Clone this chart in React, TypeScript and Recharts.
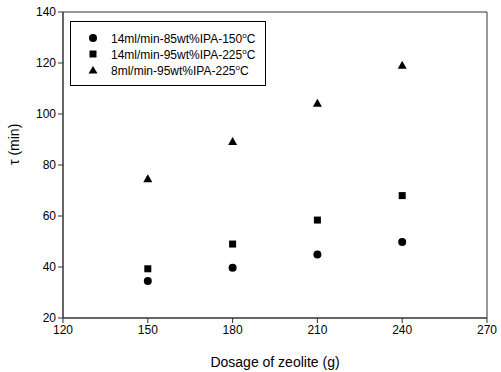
import React from 'react';
import { ReferenceArea, Scatter, ScatterChart, XAxis, YAxis, ZAxis } from 'recharts';

const dosage = [150, 180, 210, 240];
const run85at150 = [34.5, 39.7, 44.9, 49.8];
const run95at225 = [39.3, 49.0, 58.4, 68.0];
const run8at225 = [74.6, 89.2, 104.2, 119.1];

const xTicks = [120, 150, 180, 210, 240, 270];
const yTicks = [20, 40, 60, 80, 100, 120, 140];

type point = { x: number, y: number };
const toPoints = (values: number[]): point[] => dosage.map((x, i) => ({ x, y: values[i] }));

const seriesList = [
    { name: '14ml/min-85wt%IPA-150', shape: 'circle', data: toPoints(run85at150) },
    { name: '14ml/min-95wt%IPA-225', shape: 'square', data: toPoints(run95at225) },
    { name: '8ml/min-95wt%IPA-225', shape: 'triangle', data: toPoints(run8at225) }
];

const font = '"Liberation Sans", Arial, sans-serif';

// small marker drawn at the scaled point
const renderMarker = (shape: string) => (props: any) => {
    const { cx, cy } = props;
    if (shape === 'circle') return <circle cx={cx} cy={cy} r={4} fill="#000"/>;
    if (shape === 'square') return <rect x={cx - 3.5} y={cy - 3.5} width={7} height={7} fill="#000"/>;
    return <polygon points={`${cx},${cy - 4.5} ${cx + 4.5},${cy + 3.5} ${cx - 4.5},${cy + 3.5}`} fill="#000"/>;
};

function LegendBox() {
    const marker = (shape: string) => {
        if (shape === 'circle') return <circle cx={5} cy={5} r={4} fill="#000"/>;
        if (shape === 'square') return <rect x={1.5} y={1.5} width={7} height={7} fill="#000"/>;
        return <polygon points="5,1 9.5,8.5 0.5,8.5" fill="#000"/>;
    };
    return (
        <div style={{
            position: 'absolute', left: 70, top: 21,
            border: '1px solid #000', width: 196, height: 65, boxSizing: 'border-box',
            padding: '8px 0 0 17px', fontFamily: font, fontSize: 12, background: '#fff'
        }}>
            {seriesList.map(s => (
                <div key={s.name} style={{ display: 'flex', alignItems: 'center', height: 16 }}>
                    <svg width={10} height={10} style={{ marginRight: 13 }}>{marker(s.shape)}</svg>
                    <span>{s.name}<sup style={{ fontSize: 8 }}>o</sup>C</span>
                </div>
            ))}
        </div>
    );
}

export default function App() {
    return (
        <div style={{ position: 'absolute', left: 0, top: 0, width: 501, height: 372, background: '#fff' }}>
            <ScatterChart width={501} height={372} margin={{ top: 12, right: 14, bottom: 0, left: 0 }}>
                <XAxis
                    type="number"
                    dataKey="x"
                    domain={[120, 270]}
                    ticks={xTicks}
                    height={54}
                    stroke="#333"
                    tickLine={{ stroke: '#333' }}
                    tick={{ fill: '#000', fontSize: 12, fontFamily: font }}
                    tickSize={5}
                    label={{ value: 'Dosage of zeolite (g)', position: 'insideBottom', offset: 5, fill: '#000', fontSize: 14, fontFamily: font }}
                />
                <YAxis
                    type="number"
                    dataKey="y"
                    domain={[20, 140]}
                    ticks={yTicks}
                    width={63}
                    stroke="#333"
                    tickLine={{ stroke: '#333' }}
                    tick={{ fill: '#000', fontSize: 12, fontFamily: font }}
                    tickSize={5}
                    label={{ value: 'τ (min)', angle: -90, position: 'insideLeft', offset: 14, fill: '#000', fontSize: 14, fontFamily: font }}
                />
                <ZAxis range={[50, 50]}/>
                <ReferenceArea x1={120} x2={270} y1={20} y2={140} fill="none" stroke="#333" strokeOpacity={1}/>
                {seriesList.map(s => (
                    <Scatter
                        key={s.name}
                        name={s.name}
                        data={s.data}
                        fill="#000"
                        shape={renderMarker(s.shape)}
                        isAnimationActive={false}
                    />
                ))}
            </ScatterChart>
            <LegendBox/>
        </div>
    );
}
